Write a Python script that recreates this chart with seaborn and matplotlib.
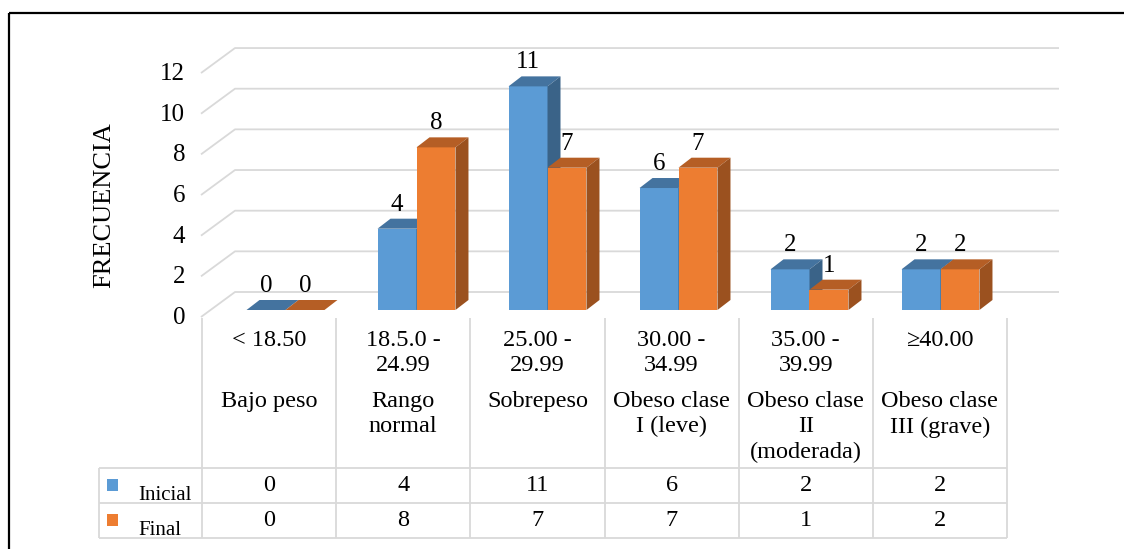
import numpy as np
import pandas as pd
import matplotlib
matplotlib.use("Agg")
import matplotlib.pyplot as plt
import matplotlib.transforms as mtransforms
from matplotlib.patches import Polygon, Rectangle
import seaborn as sns

# ---- data ----
rangos = ["< 18.50", "18.5.0 -\n24.99", "25.00 -\n29.99", "30.00 -\n34.99",
          "35.00 -\n39.99", "≥40.00"]
clases = ["Bajo peso", "Rango\nnormal", "Sobrepeso", "Obeso clase\nI (leve)",
          "Obeso clase\nII\n(moderada)", "Obeso clase\nIII (grave)"]
inicial = [0, 4, 11, 6, 2, 2]
final = [0, 8, 7, 7, 1, 2]
series = ["Inicial", "Final"]
y_ticks = [0, 2, 4, 6, 8, 10, 12]
y_label = "FRECUENCIA"

# ---- styles ----
frente = {"Inicial": "#5B9BD5", "Final": "#ED7D31"}
tapa = {"Inicial": "#44739F", "Final": "#B55E25"}
lado = {"Inicial": "#3A6388", "Final": "#9B511F"}
gris = "#D9D9D9"

sns.set_theme(style="white")
plt.rcParams["font.family"] = ["Liberation Serif", "DejaVu Serif"]

W, H = 1124, 549
fig = plt.figure(figsize=(W / 100, H / 100), dpi=100)
fig.patch.set_facecolor("white")

# pixel layout of the bar plane
X0, X1 = 220, 1006
Y0, PX_PER_UNIT = 310, 20.33
Y_TOP = Y0 - 12 * PX_PER_UNIT
ax = fig.add_axes([X0 / W, 1 - Y0 / H, (X1 - X0) / W, (Y0 - Y_TOP) / H])
ov = fig.add_axes([0, 0, 1, 1])
ov.set_xlim(0, W)
ov.set_ylim(H, 0)
ov.axis("off")
ov.set_zorder(0)
ax.set_zorder(1)

df = pd.DataFrame({
    "Clase": clases * 2,
    "Serie": np.repeat(series, len(clases)),
    "Frecuencia": inicial + final,
})
sns.barplot(data=df, x="Clase", y="Frecuencia", hue="Serie", order=clases,
            hue_order=series, palette=frente, saturation=1, width=0.595,
            gap=0, linewidth=0, errorbar=None, legend=False, ax=ax)
ax.set_xlim(-0.5, len(clases) - 0.5)
ax.set_ylim(0, 12)
ax.axis("off")
ax.patch.set_visible(False)

px = ov.transData  # pixel coordinates, y downwards


def to_px(x, y):
    d = ax.transData.transform((x, y))
    return np.array([d[0], H - d[1]])


# depth offsets (pixels) relative to the bar plane
FRONT = np.array([-19, 7])
BACK = np.array([15, -18])
DEPTH = np.array([13, -10])
WALL_RIGHT = 1059

# back wall gridlines, left wall diagonals and tick labels
for v in y_ticks:
    base = to_px(-0.5, v)
    f = base + FRONT
    b = base + BACK
    ov.plot([f[0], b[0], WALL_RIGHT], [f[1], b[1], b[1]], color=gris, lw=1.3,
            solid_capstyle="butt")
    ov.text(f[0] - 16, f[1] + 1, f"{v}", ha="right", va="center", fontsize=18,
            color="black")

ov.text(104, 205, y_label, rotation=90, ha="center", va="center", fontsize=19,
        color="black")

# 3D faces on every bar
for k, (serie, cont) in enumerate(zip(series, ax.containers)):
    for rect in cont:
        x0 = rect.get_x()
        x1 = x0 + rect.get_width()
        h = rect.get_height()
        rect.set_zorder(2 + 2 * k)
        fl, fr, br = to_px(x0, h), to_px(x1, h), to_px(x1, 0)
        top = Polygon([fl, fr, fr + DEPTH, fl + DEPTH], closed=True,
                      facecolor=tapa[serie], edgecolor="none", transform=px,
                      clip_on=False, zorder=2.5 + 2 * k)
        side = Polygon([fr, br, br + DEPTH, fr + DEPTH], closed=True,
                       facecolor=lado[serie], edgecolor="none", transform=px,
                       clip_on=False, zorder=2.5 + 2 * k)
        ax.add_patch(top)
        ax.add_patch(side)
        lab = mtransforms.offset_copy(ax.transData, fig=fig, x=0, y=24,
                                      units="dots")
        ax.text((x0 + x1) / 2, h, f"{int(h)}", transform=lab, ha="center",
                va="center", fontsize=18, color="black", zorder=10,
                clip_on=False)

# data table under the chart
TAB_X0, TAB_X1 = 202, 1007
TAB_TOP, ROW1, ROW2, ROW3, TAB_LEFT = 318, 468, 503, 538, 99
bounds = np.linspace(TAB_X0, TAB_X1, len(clases) + 1)
for xb in bounds:
    ov.plot([xb, xb], [TAB_TOP, ROW3], color=gris, lw=1.3, solid_capstyle="butt")
for yr in (ROW1, ROW2, ROW3):
    ov.plot([TAB_LEFT, bounds[-1]], [yr, yr], color=gris, lw=1.3,
            solid_capstyle="butt")
ov.plot([TAB_LEFT, TAB_LEFT], [ROW1, ROW3], color=gris, lw=1.3,
        solid_capstyle="butt")

for i, (r, c) in enumerate(zip(rangos, clases)):
    xc = (bounds[i] + bounds[i + 1]) / 2
    ov.text(xc, 330, r, ha="center", va="top", fontsize=17.5, linespacing=1.27,
            color="black")
    ov.text(xc, 391, c, ha="center", va="top", fontsize=17.5, linespacing=1.27,
            color="black")
    ov.text(xc, (ROW1 + ROW2) / 2, f"{inicial[i]}", ha="center", va="center",
            fontsize=17.5, color="black")
    ov.text(xc, (ROW2 + ROW3) / 2, f"{final[i]}", ha="center", va="center",
            fontsize=17.5, color="black")

for serie, y_row in zip(series, (ROW1, ROW2)):
    ov.add_patch(Rectangle((107, y_row + 11), 11, 12, facecolor=frente[serie],
                           edgecolor="none"))
    ov.text(138, y_row + 32, serie, ha="left", va="baseline", fontsize=15,
            color="black")

# outer frame
ov.add_patch(Rectangle((9, 13), 1300, 700, fill=False, edgecolor="black",
                       lw=1.6))

fig.savefig("out.png", dpi=100, facecolor="white")
